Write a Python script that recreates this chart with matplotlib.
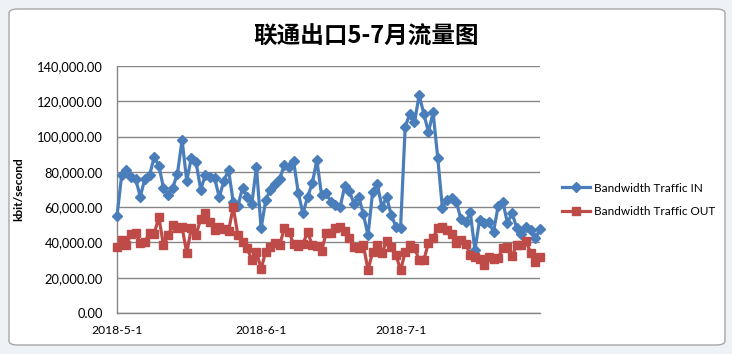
import pandas as pd
import matplotlib
matplotlib.use("Agg")
import matplotlib.pyplot as plt
from matplotlib.patches import FancyBboxPatch
from matplotlib.ticker import FuncFormatter

# daily values, 2018-05-01 .. 2018-07-31
dates = pd.date_range("2018-05-01", "2018-07-31", freq="D")
traffic_in = [
    55000, 78000, 81000, 77000, 76000, 66000, 76000, 78000, 88500, 83500,
    71000, 67000, 71000, 79000, 98000, 75000, 88000, 85500, 70000, 78000,
    77000, 76500, 65500, 75000, 81000, 63000, 60500, 71000, 66000, 62000,
    82700, 48000, 64000, 70000, 73000, 76000, 84000, 82500, 86000, 68000,
    56500, 65700, 73500, 86500, 67000, 68000, 63000, 61000, 60000, 72000,
    69000, 62000, 66000, 56000, 44000, 68700, 73000, 60000, 65700, 55500,
    49000, 48000, 105500, 113000, 108000, 123500, 113000, 102500, 113700, 88000,
    59500, 64000, 65000, 63000, 53000, 51500, 57000, 35700, 52700, 51000,
    51500, 46000, 60600, 63000, 51000, 56700, 48000, 45000, 48700, 47000,
    42500, 47500,
]
traffic_out = [
    37500, 41500, 38500, 44800, 45300, 39700, 40500, 45300, 44800, 54400,
    38300, 44200, 49900, 48100, 48700, 34000, 48100, 44200, 53300, 56700,
    51600, 47000, 48700, 47600, 46500, 60000, 44200, 40200, 36800, 30000,
    34600, 25000, 34800, 37400, 39700, 38500, 48100, 45900, 39100, 38000,
    39100, 45900, 38500, 38000, 35100, 45300, 45300, 48100, 48700, 46500,
    42500, 37400, 36800, 38500, 24400, 34600, 38500, 34000, 40800, 37400,
    32900, 24400, 34300, 38800, 37100, 30000, 30000, 39700, 42500, 48100,
    48700, 47000, 44800, 39700, 41300, 39100, 32900, 31700, 30600, 27200,
    31700, 30600, 31200, 36800, 37400, 32300, 38500, 38500, 40800, 34000,
    28900, 31700,
]
tick_dates = pd.to_datetime(["2018-05-01", "2018-06-01", "2018-07-01"])
tick_labels = [f"{d.year}-{d.month}-{d.day}" for d in tick_dates]
title = "联通出口5-7月流量图"
label_in = "Bandwidth Traffic IN"
label_out = "Bandwidth Traffic OUT"

W, H = 732, 354
fig = plt.figure(figsize=(W / 100, H / 100), dpi=100)
fig.patch.set_facecolor("#eef2f7")
frame = FancyBboxPatch((9 / W, 9 / H), 716 / W, 336 / H,
                       boxstyle="round,pad=0,rounding_size=0.012",
                       transform=fig.transFigure, facecolor="white",
                       edgecolor="#a6a6a6", linewidth=1.0, zorder=-10)
fig.patches.append(frame)

ax = fig.add_axes([117 / W, 41 / H, 423 / W, 247 / H])
ax.set_facecolor("none")

blue = "#4A7EBB"
red = "#BE4B48"
ax.plot(dates, traffic_in, color=blue, lw=2.3, marker="D", ms=5.2,
        label=label_in, zorder=3, clip_on=False)
ax.plot(dates, traffic_out, color=red, lw=2.3, marker="s", ms=6.2,
        label=label_out, zorder=3, clip_on=False)

ax.set_xlim(dates[0], dates[-1])
ax.set_ylim(0, 140000)
ax.set_yticks(range(0, 140001, 20000))
ax.yaxis.set_major_formatter(FuncFormatter(lambda v, p: f"{v:,.2f}"))
ax.set_xticks(tick_dates)
ax.set_xticklabels(tick_labels)
ax.grid(axis="y", color="#868686", lw=1.0)
ax.set_axisbelow(True)
for s in ["top", "right"]:
    ax.spines[s].set_visible(False)
for s in ["left", "bottom"]:
    ax.spines[s].set_color("#868686")
    ax.spines[s].set_linewidth(1.0)
ax.tick_params(axis="both", length=0, colors="black")
ax.tick_params(axis="y", pad=10, labelsize=9.3)
ax.tick_params(axis="x", pad=9, labelsize=8.7)
for t in ax.get_xticklabels() + ax.get_yticklabels():
    t.set_family("Lato")

ax.set_ylabel("kbit/second", fontsize=8.6, fontweight="bold", family="Lato",
              labelpad=9)

fig.text(366 / W, 1 - 37 / H, title, ha="center", va="center",
         fontsize=17, fontweight="bold",
         family=["Noto Sans CJK SC", "DejaVu Sans"])

fig.legend(loc="center left", bbox_to_anchor=(551 / W, 1 - 200 / H),
           frameon=False, prop={"family": "Lato", "size": 8.5},
           handlelength=2.4, handletextpad=0.3, labelspacing=1.1)

fig.savefig("out.png", dpi=100, facecolor=fig.get_facecolor())
